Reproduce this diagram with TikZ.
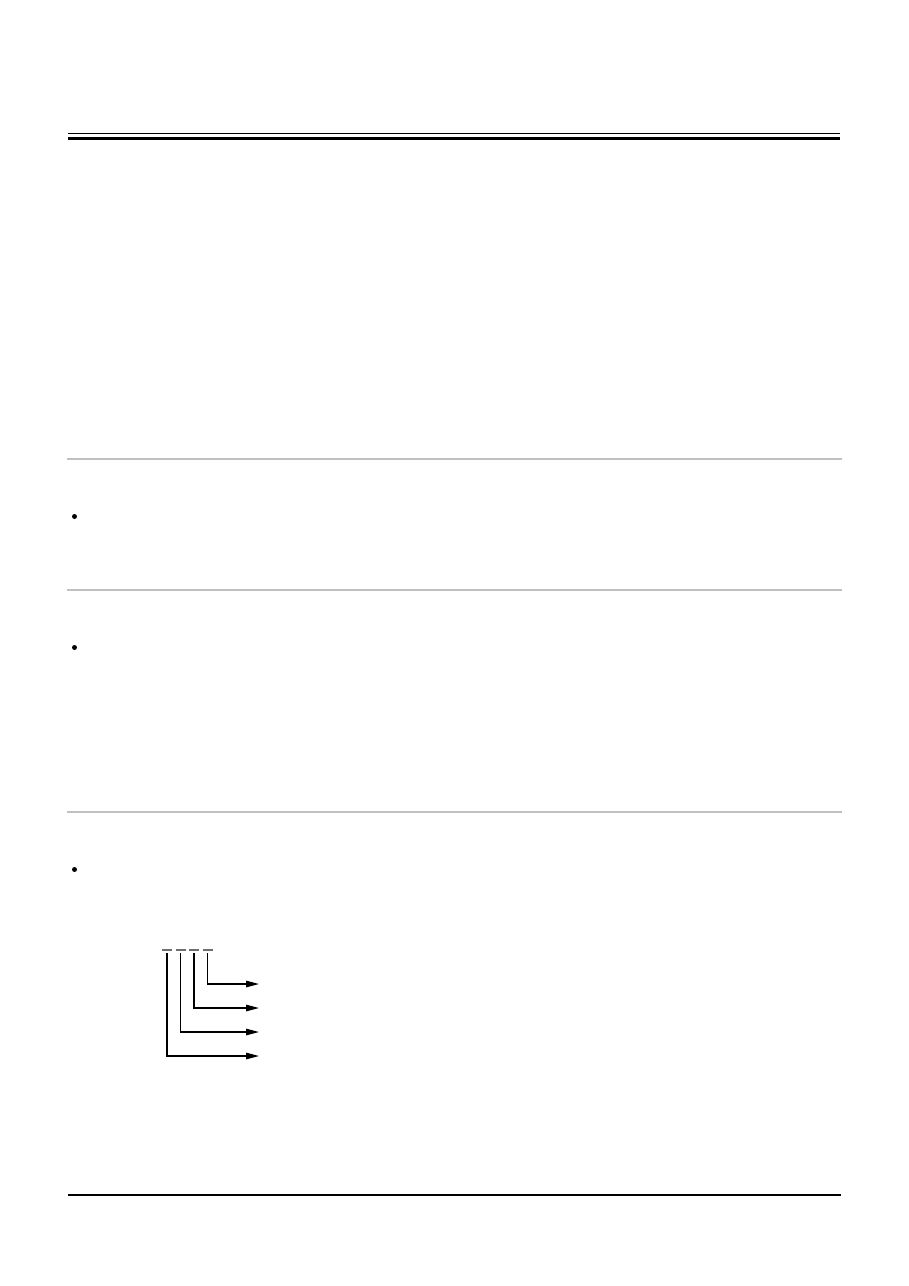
\documentclass[tikz,border=0pt]{standalone}
\usepackage{tikz}
\usetikzlibrary{arrows.meta,calc,positioning}
\definecolor{rulegray}{RGB}{192,192,192}
\definecolor{dashgray}{RGB}{110,110,110}
\tikzstyle{dot}=[fill,black,shape=circle,inner sep=0pt,minimum size=5pt]
\tikzstyle{sep}=[rulegray,line width=2.4pt]
\tikzstyle{field}=[dashgray,line width=1.5pt]
\tikzstyle{lead}=[black,line width=1.3pt,-{Triangle[length=13pt,width=6.5pt]}]

\begin{document}
\begin{tikzpicture}[x=1pt,y=-1pt]
  \useasboundingbox (0,0) rectangle (909,1286);
  % header rules
  \draw[black,line width=0.8pt] (68,133.3) -- (840,133.3);
  \draw[black,line width=2.6pt] (68,138.3) -- (840,138.3);
  % section rules
  \draw[sep] (67,459) -- (842,459);
  \draw[sep] (67,590) -- (842,590);
  \draw[sep] (67,812) -- (842,812);
  % footer rule
  \draw[black,line width=1.2pt] (68,1195) -- (841,1195);
  % bullets
  \node[dot] (b1) at (74.5,516.5) {};
  \node[dot] (b2) at (74.5,647.5) {};
  \node[dot] (b3) at (74.5,869.5) {};
  % digit fields
  \coordinate (f1) at (167,950);
  \coordinate (f2) at (180.5,950);
  \coordinate (f3) at (194,950);
  \coordinate (f4) at (207.5,950);
  \draw[field] ($(f1)+(-5,0)$) -- ($(f1)+(5,0)$);
  \draw[field] ($(f2)+(-5,0)$) -- ($(f2)+(5,0)$);
  \draw[field] ($(f3)+(-5,0)$) -- ($(f3)+(5,0)$);
  \draw[field] ($(f4)+(-5,0)$) -- ($(f4)+(5,0)$);
  % leaders
  \coordinate (e4) at (259,984);
  \coordinate (e3) at (259,1008);
  \coordinate (e2) at (259,1032);
  \coordinate (e1) at (259,1056);
  \draw[lead] ($(f4)+(0,3)$) |- (e4);
  \draw[lead] ($(f3)+(0,3)$) |- (e3);
  \draw[lead] ($(f2)+(0,3)$) |- (e2);
  \draw[lead] ($(f1)+(0,3)$) |- (e1);
\end{tikzpicture}
\end{document}
